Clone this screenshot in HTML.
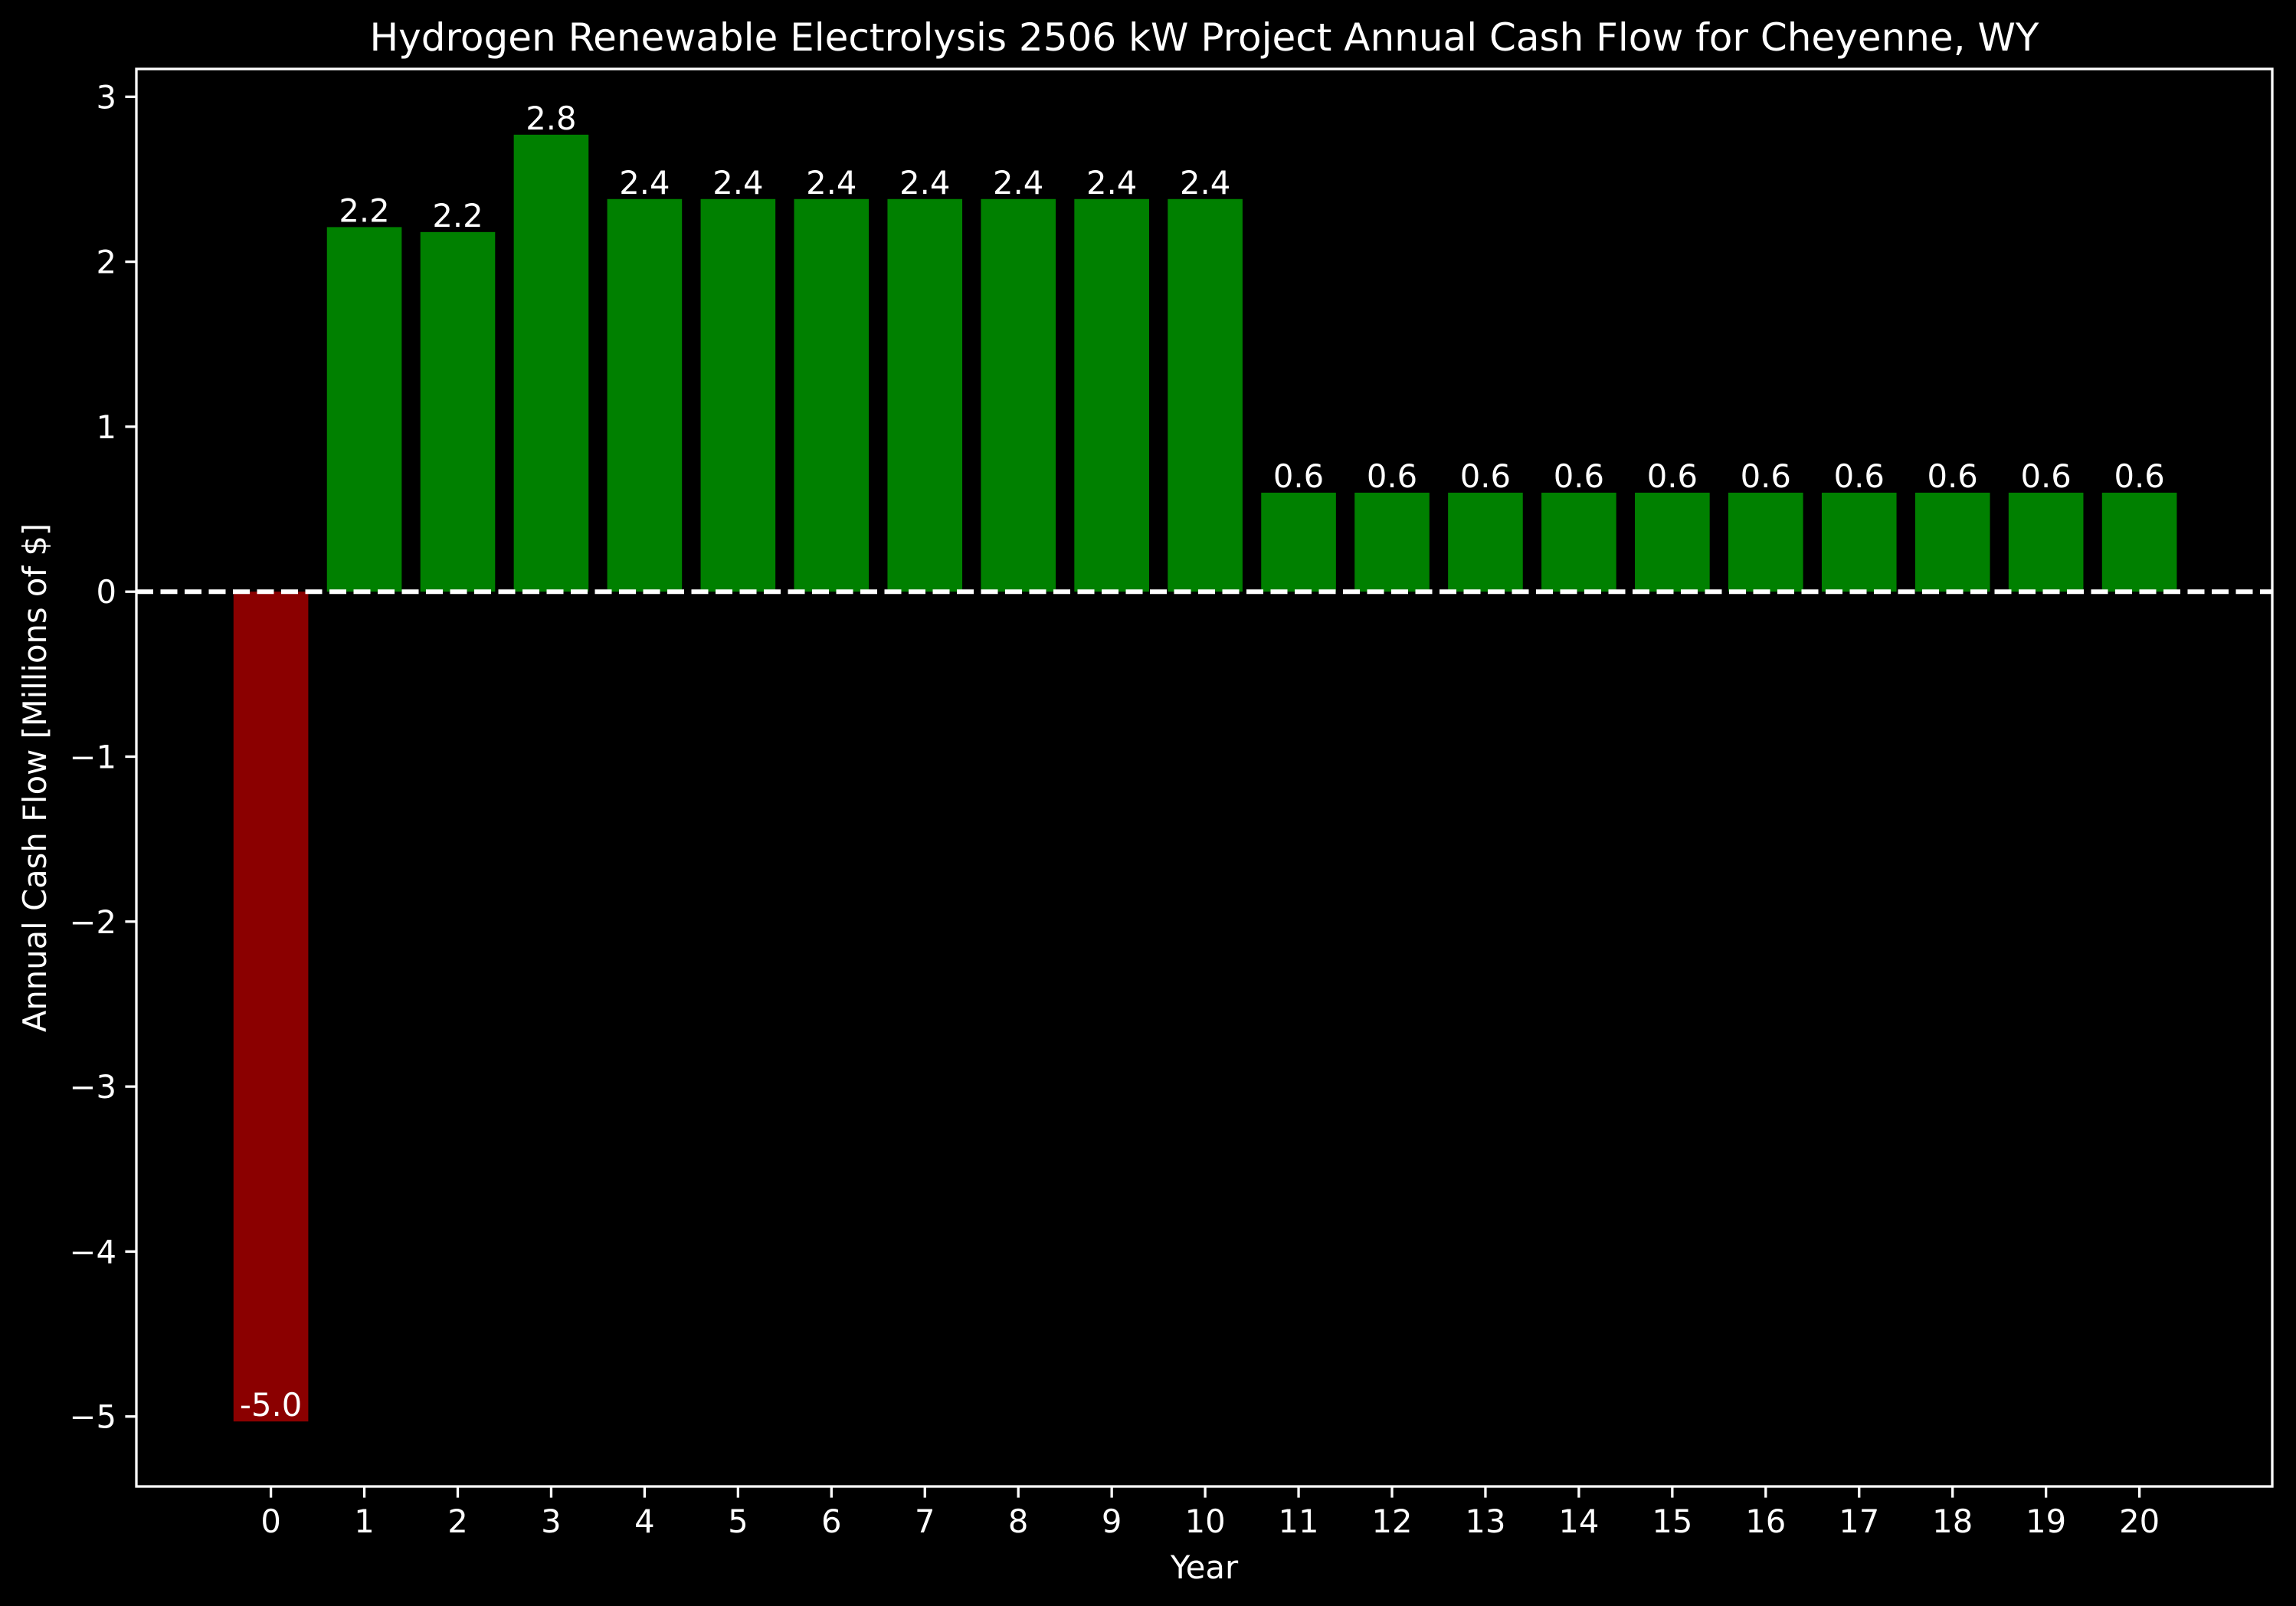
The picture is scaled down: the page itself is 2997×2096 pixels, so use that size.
<!DOCTYPE html>
<html><head><meta charset="utf-8">
<style>
html,body{margin:0;padding:0;background:#000;}
svg{display:block;font-family:"DejaVu Sans","Liberation Sans",sans-serif;}
</style></head>
<body>
<svg id="chart" width="2997" height="2096" viewBox="0 0 2997 2096" xmlns="http://www.w3.org/2000/svg">
<rect x="0" y="0" width="2997" height="2096" fill="#000"/>
<text x="1572" y="66" fill="#fff" font-size="50" text-anchor="middle">Hydrogen Renewable Electrolysis 2506 kW Project Annual Cash Flow for Cheyenne, WY</text>
<text x="1572" y="2060" fill="#fff" font-size="41.7" text-anchor="middle">Year</text>
<text transform="translate(60,1015) rotate(-90)" fill="#fff" font-size="41.7" text-anchor="middle">Annual Cash Flow [Millions of $]</text>
<g id="plot"></g>
</svg>
<script>
const years = [0,1,2,3,4,5,6,7,8,9,10,11,12,13,14,15,16,17,18,19,20];
const cashFlow = [-5.03,2.21,2.18,2.77,2.38,2.38,2.38,2.38,2.38,2.38,2.38,0.6,0.6,0.6,0.6,0.6,0.6,0.6,0.6,0.6,0.6];
const barLabels = ["-5.0","2.2","2.2","2.8","2.4","2.4","2.4","2.4","2.4","2.4","2.4","0.6","0.6","0.6","0.6","0.6","0.6","0.6","0.6","0.6","0.6"];
const yTicks = [-5,-4,-3,-2,-1,0,1,2,3];

const L=178,R=2966,T=90,B=1940;
const NS="http://www.w3.org/2000/svg";
const g=document.getElementById('plot');
function x(v){return 353.6+(v-0)*121.95;}
function y(v){return 772.2-v*215.3;}
function mk(t,a){const e=document.createElementNS(NS,t);for(const k in a)e.setAttribute(k,a[k]);g.appendChild(e);return e;}

years.forEach((yr,i)=>{
  const v=cashFlow[i];
  const top=Math.min(y(v),y(0)),h=Math.abs(y(v)-y(0));
  const r=mk('rect',{x:x(yr)-48.8,y:top,width:97.6,height:h,fill:v<0?'#8b0000':'#008000'});
  
  
  const t=mk('text',{x:x(yr),y:y(v)-7,fill:'#fff','font-size':'41.7','text-anchor':'middle'});
  t.textContent=barLabels[i];
  
  
  const tk=mk('line',{x1:x(yr),x2:x(yr),y1:B,y2:B+14.6,stroke:'#fff','stroke-width':3.3});
  
  
  const tl=mk('text',{x:x(yr),y:B+60,fill:'#fff','font-size':'41.7','text-anchor':'middle'});
  tl.textContent=String(yr);
  
  
});
yTicks.forEach(v=>{
  const tk=mk('line',{x1:L-14.6,x2:L,y1:y(v),y2:y(v),stroke:'#fff','stroke-width':3.3});
  
  
  const tl=mk('text',{x:L-26,y:y(v)+15,fill:'#fff','font-size':'41.7','text-anchor':'end'});
  tl.textContent=v<0?'\u2212'+Math.abs(v):String(v);
  
  
});
const zl=mk('line',{x1:L,x2:R,y1:y(0),y2:y(0),stroke:'#fff','stroke-width':6,'stroke-dasharray':'22 9.5'});


const fr=mk('rect',{x:L,y:T,width:R-L,height:B-T,fill:'none',stroke:'#fff','stroke-width':3.3});


</script>
</body></html>
